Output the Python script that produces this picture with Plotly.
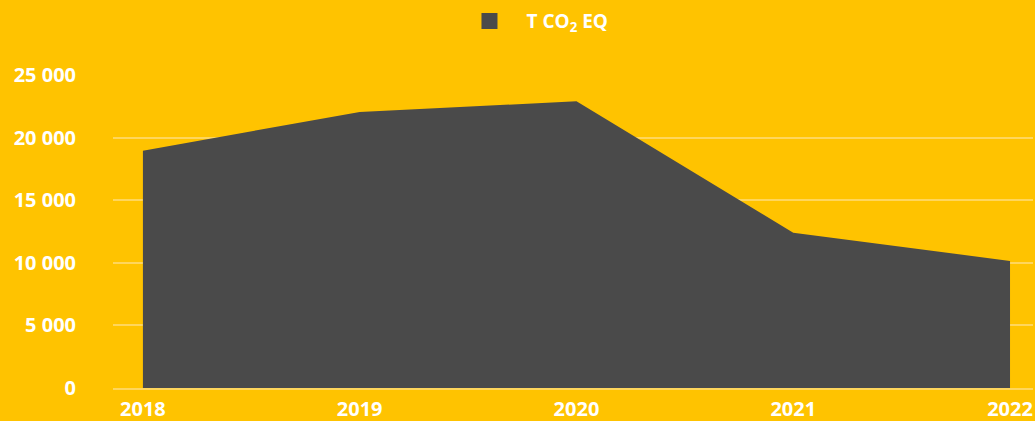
import plotly.graph_objects as go

years = [2018, 2019, 2020, 2021, 2022]
emissions = [18950, 22050, 22900, 12400, 10150]
y_ticks = [0, 5000, 10000, 15000, 20000, 25000]
y_tick_labels = ["0", "5 000", "10 000", "15 000", "20 000", "25 000"]

bg = "#FFC300"
dark = "#4A4A4A"
grid = "#FFD65C"

fig = go.Figure()
fig.add_trace(go.Scatter(x=years, y=emissions, fill="tozeroy", mode="none",
                         fillcolor=dark, showlegend=False))
# legend entry
fig.add_trace(go.Scatter(x=[2018], y=[-1000], mode="markers", name="T CO<sub>2</sub> EQ",
                         marker=dict(symbol="square", size=17, color=dark)))

fig.update_layout(
    width=1035, height=421,
    paper_bgcolor=bg, plot_bgcolor=bg,
    margin=dict(l=113, r=2, t=75, b=33),
    font=dict(family="Open Sans", color="white", size=20),
    showlegend=True,
    legend=dict(orientation="h", x=0.369, xanchor="left", y=0.995, yanchor="top",
                yref="container", font=dict(size=19, weight="bold"),
                itemwidth=64, bgcolor="rgba(0,0,0,0)"),
)
fig.update_xaxes(range=[2017.862, 2022.106], tickvals=years, ticktext=[str(y) for y in years],
                 showgrid=False, zeroline=False, showline=True, linecolor=grid, linewidth=2,
                 tickfont=dict(size=20, weight="bold"), ticks="outside", ticklen=2,
                 tickcolor="rgba(0,0,0,0)", automargin=False)
fig.update_yaxes(range=[0, 25000], tickvals=y_ticks, ticktext=y_tick_labels,
                 gridcolor=grid, gridwidth=2, zeroline=False, showline=False,
                 tickfont=dict(size=20, weight="bold"), ticklabelstandoff=36,
                 automargin=False)

fig.write_html("out.html", config={"displayModeBar": False},
               post_script="document.body.style.margin='0';")
